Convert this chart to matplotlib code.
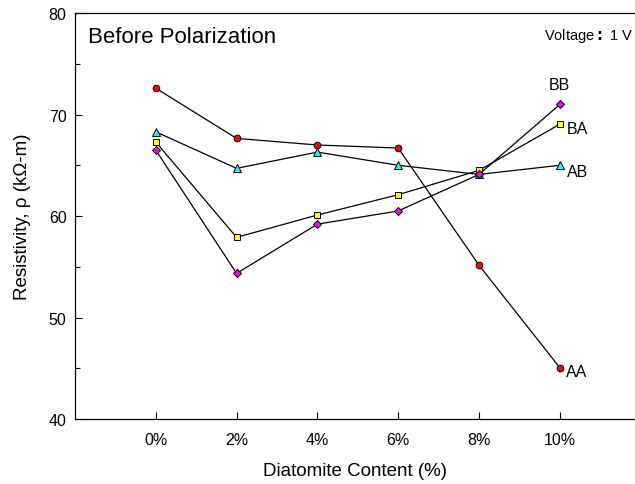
import numpy as np
import matplotlib.pyplot as plt
from matplotlib.ticker import MultipleLocator

plt.rcParams['font.family'] = ['Liberation Sans', 'DejaVu Sans']

content = ['0%', '2%', '4%', '6%', '8%', '10%']
aa = [72.6, 67.65, 67.0, 66.7, 55.15, 45.05]
ab = [68.3, 64.7, 66.3, 65.0, 64.1, 65.0]
ba = [67.3, 57.9, 60.1, 62.1, 64.5, 69.05]
bb = [66.5, 54.35, 59.2, 60.5, 64.1, 71.0]

x = np.arange(len(content))

fig = plt.figure(figsize=(6.35, 4.85), dpi=100)
ax = fig.add_axes([0.118, 0.134, 0.882, 0.837])

series = [
    (aa, 'o', 'red', 4.8, 'AA'),
    (ab, '^', 'cyan', 5.2, 'AB'),
    (ba, 's', 'yellow', 4.8, 'BA'),
    (bb, 'D', 'magenta', 4.4, 'BB'),
]
for vals, mk, col, ms, name in series:
    ax.plot(x, vals, color='black', lw=0.9, marker=mk, markersize=ms,
            markerfacecolor=col, markeredgecolor='black', markeredgewidth=0.7)

# series names next to the last point
ax.text(x[-1] + 0.07, aa[-1] - 0.4, 'AA', fontsize=11.5, ha='left', va='center')
ax.text(x[-1] + 0.09, ab[-1] - 0.6, 'AB', fontsize=11.5, ha='left', va='center')
ax.text(x[-1] + 0.09, ba[-1] - 0.4, 'BA', fontsize=11.5, ha='left', va='center')
ax.text(x[-1], bb[-1] + 2.0, 'BB', fontsize=11.5, ha='center', va='center')

ax.text(0.023, 0.968, 'Before Polarization', transform=ax.transAxes,
        fontsize=16, ha='left', va='top')
ax.text(0.997, 0.968, 'Voltage$\\mathbf{:}$ 1 V', transform=ax.transAxes,
        fontsize=10.5, ha='right', va='top')

ax.set_xlim(-1, 5.93)
ax.set_ylim(40, 80)
ax.set_xticks(x)
ax.set_xticklabels(content)
ax.yaxis.set_major_locator(MultipleLocator(10))
ax.yaxis.set_minor_locator(MultipleLocator(5))
ax.tick_params(axis='x', direction='in', length=5, width=0.8, labelsize=11.5, pad=9)
ax.tick_params(axis='y', which='major', direction='in', length=5, width=0.8,
               labelsize=11.5, pad=6)
ax.tick_params(axis='y', which='minor', direction='in', length=3.5, width=0.8)
ax.spines['right'].set_visible(False)
for s in ['left', 'bottom', 'top']:
    ax.spines[s].set_linewidth(0.9)

ax.set_xlabel('Diatomite Content (%)', fontsize=13.5, labelpad=11)
ax.set_ylabel('Resistivity, ρ (kΩ-m)', fontsize=13.5, labelpad=13)

fig.savefig('out.png', dpi=100)
